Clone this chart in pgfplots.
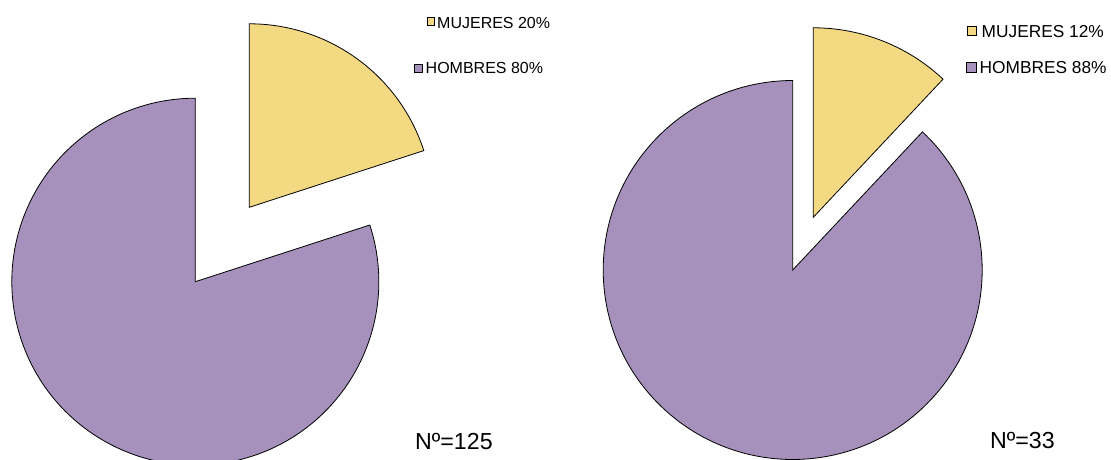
\documentclass[border=0pt]{standalone}
\usepackage{pgfplots}
\pgfplotsset{compat=1.18}
\usepackage{fontspec}
\setmainfont{Liberation Sans}
\definecolor{yel}{HTML}{F2D982}
\definecolor{pur}{HTML}{A591BC}
% data (percentages)
\def\mujA{20}\def\homA{80}
\def\mujB{12}\def\homB{88}
\pgfmathsetmacro\angA{90-3.6*\mujA}
\pgfmathsetmacro\angAe{\angA-3.6*\homA}
\pgfmathsetmacro\angB{90-3.6*\mujB}
\pgfmathsetmacro\angBe{\angB-3.6*\homB}
\begin{document}
\begin{tikzpicture}
\useasboundingbox (0,0) rectangle (1111pt,460pt);
\begin{axis}[at={(0,0)}, anchor=south west, width=1111pt, height=460pt, scale only axis,
  xmin=0, xmax=1111, ymin=0, ymax=460, hide axis, clip=true]
% left pie
\draw[fill=pur, draw=black, line width=0.8pt] (axis cs:195.3,178.3) -- ++(\angA:183.5pt)
  arc[start angle=\angA, end angle=\angAe, radius=183.5pt] -- cycle;
\draw[fill=yel, draw=black, line width=0.8pt] (axis cs:249.3,252.7) -- ++(90:183.5pt)
  arc[start angle=90, end angle=\angA, radius=183.5pt] -- cycle;
% right pie
\draw[fill=pur, draw=black, line width=0.8pt] (axis cs:792.7,190) -- ++(\angB:189.5pt)
  arc[start angle=\angB, end angle=\angBe, radius=189.5pt] -- cycle;
\draw[fill=yel, draw=black, line width=0.8pt] (axis cs:813.3,242.7) -- ++(90:189.5pt)
  arc[start angle=90, end angle=\angB, radius=189.5pt] -- cycle;
% legends
\draw[fill=yel, draw=black, line width=0.8pt] (axis cs:427,434.3) rectangle (axis cs:434.3,442.3);
\node[anchor=base west, inner sep=0pt, font=\fontsize{16}{18}\selectfont] at (axis cs:437,431) {MUJERES 20\%};
\draw[fill=pur, draw=black, line width=0.8pt] (axis cs:414.5,388) rectangle (axis cs:422,396);
\node[anchor=base west, inner sep=0pt, font=\fontsize{16}{18}\selectfont] at (axis cs:425.5,386.7) {HOMBRES 80\%};
\draw[fill=yel, draw=black, line width=0.8pt] (axis cs:967,424.5) rectangle (axis cs:976,434);
\node[anchor=base west, inner sep=0pt, font=\fontsize{17.3}{20}\selectfont] at (axis cs:981.5,422.7) {MUJERES 12\%};
\draw[fill=pur, draw=black, line width=0.8pt] (axis cs:966.5,388) rectangle (axis cs:976,398);
\node[anchor=base west, inner sep=0pt, font=\fontsize{17.3}{20}\selectfont] at (axis cs:979.5,386.7) {HOMBRES 88\%};
% counts
\node[anchor=base west, inner sep=0pt, font=\fontsize{23.2}{26}\selectfont] at (axis cs:415,10.7) {Nº=125};
\node[anchor=base west, inner sep=0pt, font=\fontsize{23.2}{26}\selectfont] at (axis cs:990,11.3) {Nº=33};
\end{axis}
\end{tikzpicture}
\end{document}
